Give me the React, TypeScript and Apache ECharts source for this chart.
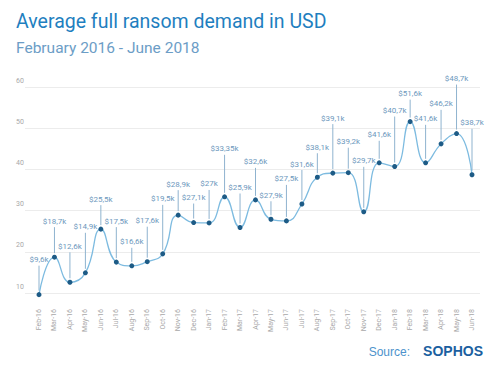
import React, { useEffect, useRef } from "react";
import * as echarts from "echarts";

const months = [
  "Feb-16", "Mar-16", "Apr-16", "May-16", "Jun-16", "Jul-16", "Aug-16", "Sep-16", "Oct-16", "Nov-16",
  "Dec-16", "Jan-17", "Feb-17", "Mar-17", "Apr-17", "May-17", "Jun-17", "Jul-17", "Aug-17", "Sep-17",
  "Oct-17", "Nov-17", "Dec-17", "Jan-18", "Feb-18", "Mar-18", "Apr-18", "May-18", "Jun-18",
];
const demand = [
  9.6, 18.7, 12.6, 14.9, 25.5, 17.5, 16.6, 17.6, 19.5, 28.9,
  27.1, 27, 33.35, 25.9, 32.6, 27.9, 27.5, 31.6, 38.1, 39.1,
  39.2, 29.7, 41.6, 40.7, 51.6, 41.6, 46.2, 48.7, 38.7,
];
const valueLabels = [
  "$9,6k", "$18,7k", "$12,6k", "$14,9k", "$25,5k", "$17,5k", "$16,6k", "$17,6k", "$19,5k", "$28,9k",
  "$27,1k", "$27k", "$33,35k", "$25,9k", "$32,6k", "$27,9k", "$27,5k", "$31,6k", "$38,1k", "$39,1k",
  "$39,2k", "$29,7k", "$41,6k", "$40,7k", "$51,6k", "$41,6k", "$46,2k", "$48,7k", "$38,7k",
];
const yTicks = [10, 20, 30, 40, 50, 60];

// layout only: how far (px) each label sits above its point
const labelRise = [
  35, 36, 36, 46, 30, 41, 24, 41, 55, 31,
  25, 39, 48, 40, 38, 24, 42, 40, 30, 55,
  31, 51, 28, 56, 28, 44, 40, 55, 52,
];

export default function App() {
  const ref = useRef<HTMLDivElement>(null);
  useEffect(() => {
    if (!ref.current) return;
    const chart = echarts.init(ref.current, null, { renderer: "svg" });
    const yMin = yTicks[0];
    const yMax = yTicks[yTicks.length - 1];
    chart.setOption({
      animation: false,
      backgroundColor: "#ffffff",
      title: [
        {
          text: "Average full ransom demand in USD",
          left: 11,
          top: 6,
          textStyle: { fontFamily: "Roboto", fontSize: 19.5, fontWeight: "normal", color: "#1f7fbf" },
        },
        {
          text: "February 2016 - June 2018",
          left: 11,
          top: 35,
          textStyle: { fontFamily: "Roboto", fontSize: 15.5, fontWeight: "normal", color: "#6c9dc6" },
        },
      ],
      grid: [
        { left: 25, right: 22, top: 87, bottom: 78 },
        { left: 39, right: 30, top: 87, bottom: 78 },
      ],
      xAxis: [
        { type: "category", gridIndex: 0, data: months, show: false },
        {
          type: "category",
          gridIndex: 1,
          data: months,
          boundaryGap: false,
          axisLine: { show: false },
          axisTick: { show: false },
          axisLabel: {
            rotate: 90,
            margin: 16,
            interval: 0,
            fontFamily: "Roboto",
            fontSize: 7,
            color: "#a8a8a8",
          },
        },
      ],
      yAxis: [
        {
          type: "value",
          gridIndex: 0,
          min: yMin,
          max: yMax,
          interval: 10,
          axisLine: { show: false },
          axisTick: { show: false },
          splitLine: { lineStyle: { color: "#ececec", width: 1 } },
          axisLabel: {
            align: "left",
            margin: 9,
            verticalAlign: "bottom",
            padding: [0, 0, 3, 0],
            fontFamily: "Roboto",
            fontSize: 7,
            color: "#a8a8a8",
          },
        },
        { type: "value", gridIndex: 1, min: yMin, max: yMax, show: false },
      ],
      series: [
        {
          type: "custom",
          xAxisIndex: 1,
          yAxisIndex: 1,
          clip: false,
          z: 1,
          data: demand.map((v, i) => [i, v]),
          renderItem: (params: any, api: any) => {
            const i = params.dataIndex;
            const p = api.coord([api.value(0), api.value(1)]);
            const rise = labelRise[i];
            return {
              type: "group",
              children: [
                {
                  type: "line",
                  shape: { x1: p[0], y1: p[1] - 4, x2: p[0], y2: p[1] - rise + 6 },
                  style: { stroke: "#8fb3cf", lineWidth: 1 },
                },
                {
                  type: "text",
                  x: p[0],
                  y: p[1] - rise,
                  style: {
                    text: valueLabels[i],
                    align: "center",
                    verticalAlign: "middle",
                    fontFamily: "Roboto",
                    fontSize: 8,
                    fill: "#6d98bd",
                  },
                },
              ],
            };
          },
        },
        {
          type: "line",
          xAxisIndex: 1,
          yAxisIndex: 1,
          data: demand,
          smooth: 0.5,
          clip: false,
          z: 3,
          symbol: "circle",
          symbolSize: 5,
          lineStyle: { color: "#7dbbe0", width: 1.3 },
          itemStyle: { color: "#1d5b86" },
          label: { show: false },
        },
      ],
      graphic: [
        {
          type: "text",
          right: 92,
          top: 346,
          style: { text: "Source:", fontFamily: "Liberation Sans", fontSize: 12, fill: "#4d93cc" },
        },
        {
          type: "text",
          right: 19,
          top: 344,
          style: {
            text: "SOPHOS",
            fontFamily: "Liberation Sans",
            fontSize: 14,
            fontWeight: "bold",
            fill: "#1b5fa0",
          },
        },
      ],
    });
    return () => chart.dispose();
  }, []);
  return <div ref={ref} style={{ position: "absolute", left: 0, top: 0, width: 502, height: 371 }} />;
}
